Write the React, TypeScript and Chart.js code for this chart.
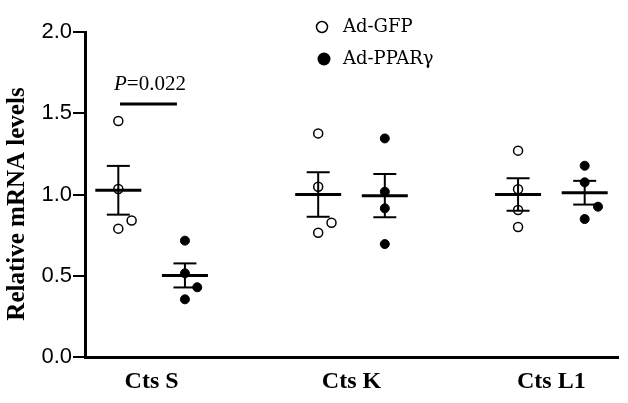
import React, { useEffect, useRef } from "react";
import { Chart, registerables } from "chart.js";

Chart.register(...registerables);

// ---- data ----
const categories = ["Cts S", "Cts K", "Cts L1"];
const categoryX = [2, 8, 14];
const seriesLabels = ["Ad-GFP", "Ad-PPARγ"];
const yTicks = [0, 0.5, 1.0, 1.5, 2.0];

const gfpX = [1, 7, 13];
const pparX = [3, 9, 15];

const gfpValues = [
  [1.452, 1.034, 0.79, 0.84],
  [1.376, 1.048, 0.826, 0.765],
  [1.27, 1.032, 0.905, 0.8],
];
const gfpJitter = [
  [0, 0, 0, 0.4],
  [0, 0, 0.4, 0],
  [0, 0, 0, 0],
];
const pparValues = [
  [0.716, 0.515, 0.429, 0.355],
  [1.345, 1.017, 0.915, 0.695],
  [1.177, 1.075, 0.925, 0.849],
];
const pparJitter = [
  [0, 0, 0.37, 0],
  [0, 0, 0, 0],
  [0, 0, 0.4, 0],
];

const gfpMean = [1.026, 1.0, 1.0];
const gfpSem = [0.15, 0.137, 0.1];
const pparMean = [0.502, 0.993, 1.011];
const pparSem = [0.074, 0.133, 0.073];

const sigBarX = [1.05, 2.76];
const sigBarY = 1.557;
const pValue = "=0.022";
const pTextX = 1.95;
const pTextY = 1.674;

function toPoints(xs: number[], vals: number[][], jit: number[][]) {
  const out: { x: number; y: number }[] = [];
  vals.forEach((g, i) =>
    g.forEach((v, j) => out.push({ x: xs[i] + jit[i][j], y: v }))
  );
  return out;
}

const errorBarPlugin = {
  id: "errbars",
  afterDatasetsDraw(chart: any) {
    const { ctx, scales } = chart;
    const xs = scales.x;
    const ys = scales.y;
    ctx.save();
    ctx.strokeStyle = "#000";
    const line = (a: number, b: number, c: number, d: number) => {
      ctx.beginPath();
      ctx.moveTo(a, b);
      ctx.lineTo(c, d);
      ctx.stroke();
    };
    const groups: [number[], number[], number[]][] = [
      [gfpX, gfpMean, gfpSem],
      [pparX, pparMean, pparSem],
    ];
    for (const [gx, gm, gs] of groups) {
      gx.forEach((xv, i) => {
        const px = xs.getPixelForValue(xv);
        const pm = ys.getPixelForValue(gm[i]);
        const pt = ys.getPixelForValue(gm[i] + gs[i]);
        const pb = ys.getPixelForValue(gm[i] - gs[i]);
        ctx.lineWidth = 2;
        line(px, pt, px, pb);
        line(px - 11.5, pt, px + 11.5, pt);
        line(px - 11.5, pb, px + 11.5, pb);
        ctx.lineWidth = 3;
        line(px - 23, pm, px + 23, pm);
      });
    }
    // significance bar
    ctx.lineWidth = 3;
    const sy = ys.getPixelForValue(sigBarY);
    line(xs.getPixelForValue(sigBarX[0]), sy, xs.getPixelForValue(sigBarX[1]), sy);
    // P text
    const tx = xs.getPixelForValue(pTextX);
    const ty = ys.getPixelForValue(pTextY);
    ctx.fillStyle = "#000";
    ctx.textBaseline = "middle";
    ctx.font = "italic 21px 'Liberation Serif'";
    const wP = ctx.measureText("P").width;
    ctx.font = "21px 'Liberation Serif'";
    const wR = ctx.measureText(pValue).width;
    const start = tx - (wP + wR) / 2;
    ctx.textAlign = "left";
    ctx.font = "italic 21px 'Liberation Serif'";
    ctx.fillText("P", start, ty);
    ctx.font = "21px 'Liberation Serif'";
    ctx.fillText(pValue, start + wP, ty);
    ctx.restore();
  },
  afterDraw(chart: any) {
    const { ctx } = chart;
    ctx.save();
    // y title
    ctx.translate(18, 204);
    ctx.rotate(-Math.PI / 2);
    ctx.font = "bold 25px 'Liberation Serif'";
    ctx.fillStyle = "#000";
    ctx.textAlign = "center";
    ctx.textBaseline = "middle";
    ctx.fillText("Relative mRNA levels", 0, 0);
    ctx.restore();

    // legend
    ctx.save();
    ctx.strokeStyle = "#000";
    ctx.lineWidth = 1.5;
    ctx.beginPath();
    ctx.arc(322, 27, 5.5, 0, Math.PI * 2);
    ctx.fillStyle = "#fff";
    ctx.fill();
    ctx.stroke();
    ctx.fillStyle = "#000";
    ctx.beginPath();
    ctx.arc(324, 59, 6.5, 0, Math.PI * 2);
    ctx.fill();
    ctx.font = "18px 'DejaVu Serif'";
    ctx.textAlign = "left";
    ctx.textBaseline = "middle";
    ctx.fillText(seriesLabels[0], 343, 27);
    ctx.fillText(seriesLabels[1], 343, 59);
    ctx.restore();
  },
};

export default function App() {
  const ref = useRef<HTMLCanvasElement>(null);
  useEffect(() => {
    document.body.style.margin = "0";
    const chart = new Chart(ref.current!, {
      type: "scatter",
      data: {
        datasets: [
          {
            label: seriesLabels[0],
            data: toPoints(gfpX, gfpValues, gfpJitter),
            backgroundColor: "#fff",
            borderColor: "#000",
            borderWidth: 1.5,
            pointRadius: 4.5,
          },
          {
            label: seriesLabels[1],
            data: toPoints(pparX, pparValues, pparJitter),
            backgroundColor: "#000",
            borderColor: "#000",
            borderWidth: 1,
            pointRadius: 4.5,
          },
        ],
      },
      options: {
        animation: false,
        responsive: true,
        maintainAspectRatio: false,
        layout: { padding: { top: 32, right: 10, left: 0, bottom: 0 } },
        plugins: {
          legend: { display: false },
          tooltip: { enabled: false },
        },
        scales: {
          x: {
            type: "linear",
            min: 0,
            max: 16,
            afterFit: (s: any) => {
              s.height = 46;
            },
            afterBuildTicks: (s: any) => {
              s.ticks = categoryX.map((v) => ({ value: v }));
            },
            ticks: {
              callback: (v: any) => categories[categoryX.indexOf(Number(v))] ?? "",
              font: { family: "'Liberation Serif'", weight: "bold", size: 24 },
              color: "#000",
              padding: 10,
              maxRotation: 0,
              autoSkip: false,
            },
            grid: { display: false, drawTicks: false },
            border: { display: true, color: "#000", width: 3 },
          },
          y: {
            min: 0,
            max: 2,
            afterFit: (s: any) => {
              s.width = 85;
            },
            afterBuildTicks: (s: any) => {
              s.ticks = yTicks.map((v) => ({ value: v }));
            },
            ticks: {
              callback: (v: any) => Number(v).toFixed(1),
              font: { family: "'Liberation Sans'", size: 22 },
              color: "#000",
              padding: 1,
            },
            grid: {
              drawOnChartArea: false,
              drawTicks: true,
              tickLength: 12,
              color: "#000",
              lineWidth: 2,
            },
            border: { display: true, color: "#000", width: 3 },
          },
        },
      } as any,
      plugins: [errorBarPlugin],
    });
    return () => chart.destroy();
  }, []);
  return (
    <div style={{ position: "relative", width: 628, height: 403 }}>
      <canvas ref={ref} />
    </div>
  );
}
